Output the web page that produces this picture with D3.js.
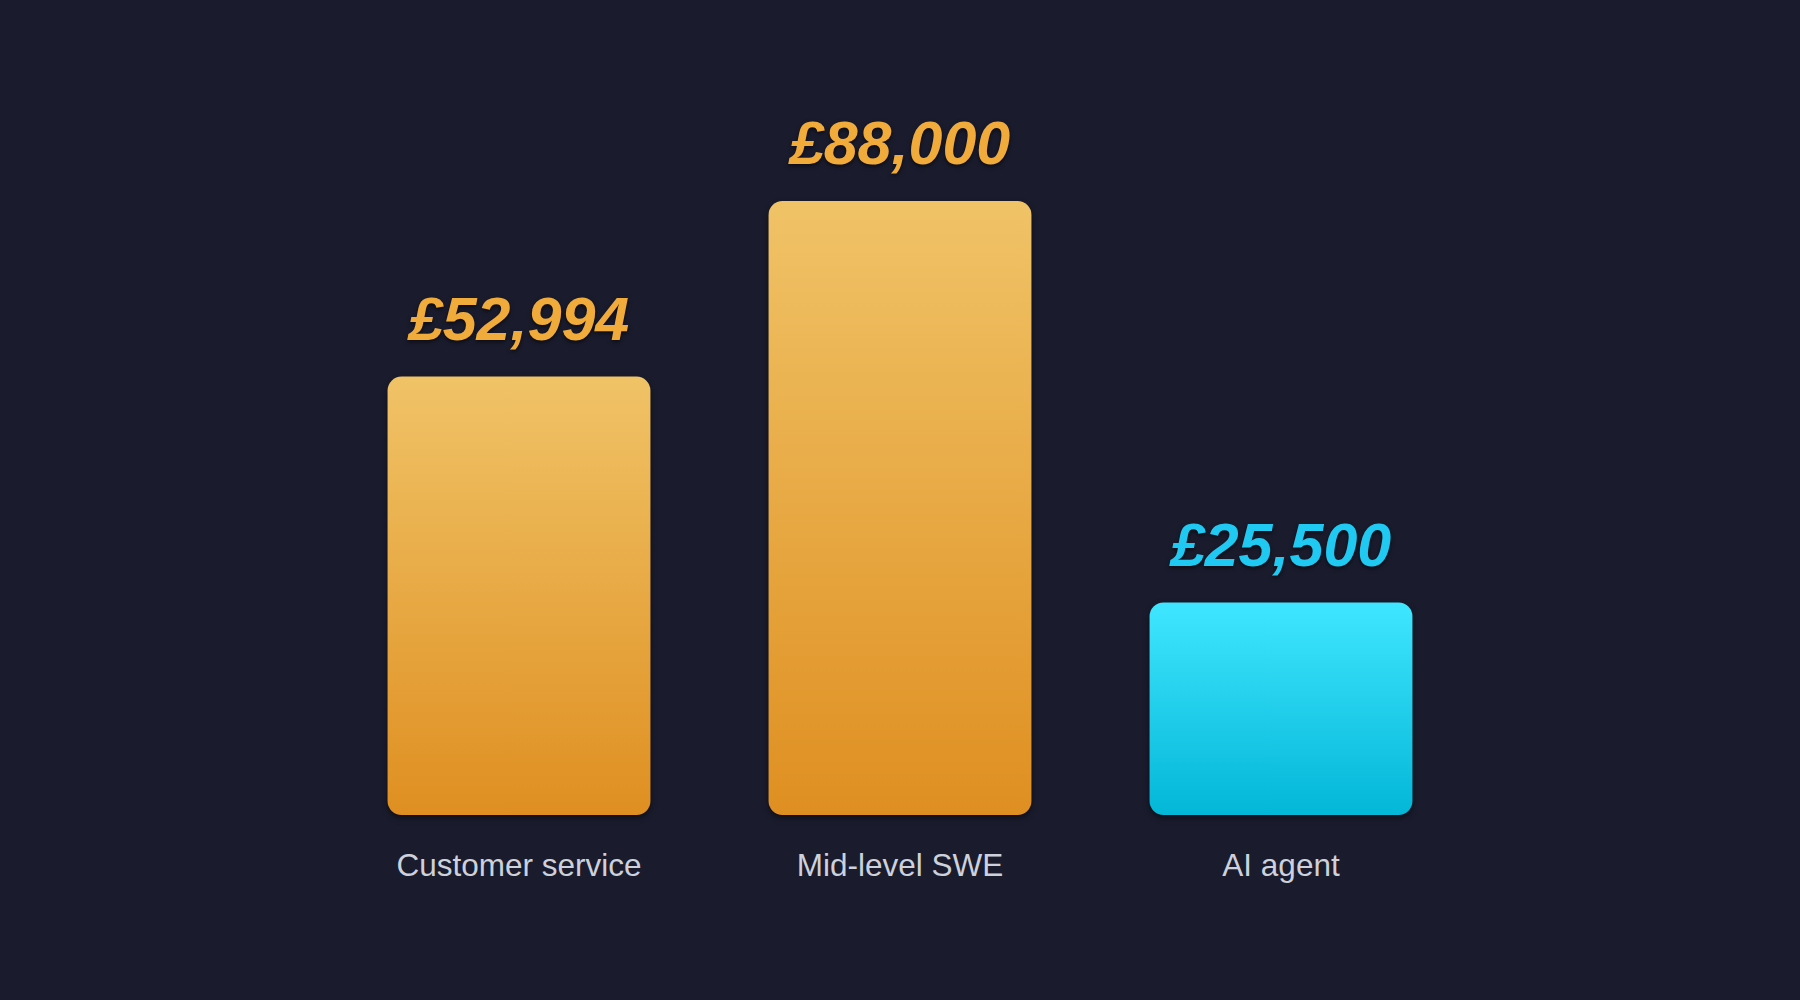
<!DOCTYPE html>
<html>
<head>
<meta charset="utf-8">
<script src="https://cdn.jsdelivr.net/npm/d3@7"></script>
<style>
  html, body { margin: 0; padding: 0; background: #1a1b2d; }
  svg { display: block; }
</style>
</head>
<body>
<svg id="chart" width="1800" height="1000"></svg>
<script>
// ---- data ----
const categories = ["Customer service", "Mid-level SWE", "AI agent"];
const values = [52994, 88000, 25500];
const valueLabels = ["£52,994", "£88,000", "£25,500"];
const groups = ["human", "human", "ai"];

const W = 1800, H = 1000;
const baseY = 815, topY = 201;

const svg = d3.select("#chart");
svg.append("rect").attr("width", W).attr("height", H).attr("fill", "#1a1b2d");

const defs = svg.append("defs");
const gradStops = {
  human: ["#f0c367", "#df8f21"],
  ai: ["#40e6ff", "#03b7d7"]
};
Object.entries(gradStops).forEach(([k, c]) => {
  const g = defs.append("linearGradient").attr("id", "grad-" + k)
    .attr("x1", 0).attr("y1", 0).attr("x2", 0).attr("y2", 1);
  g.append("stop").attr("offset", "0%").attr("stop-color", c[0]);
  g.append("stop").attr("offset", "100%").attr("stop-color", c[1]);
});
const textColor = { human: "#f0ab3b", ai: "#1fc9f2" };

const x = d3.scaleBand()
  .domain(categories)
  .range([328.5, 1471.5])
  .paddingInner(0.31)
  .paddingOuter(0.155);

// bar heights in the reference are visually compressed; a power scale reproduces them
const y = d3.scalePow()
  .exponent(0.185)
  .domain([11550, 88000])
  .range([baseY, topY]);

const data = categories.map((c, i) => ({ c, v: values[i], label: valueLabels[i], g: groups[i] }));

svg.append("g").selectAll("rect")
  .data(data)
  .join("rect")
  .attr("x", d => x(d.c))
  .attr("y", d => y(d.v))
  .attr("width", x.bandwidth())
  .attr("height", d => baseY - y(d.v))
  .attr("rx", 14)
  .attr("ry", 14)
  .attr("fill", d => "url(#grad-" + d.g + ")")
  .style("filter", "drop-shadow(0px 3px 3px rgba(0,0,0,0.45))");

svg.append("g").selectAll("text")
  .data(data)
  .join("text")
  .attr("x", d => x(d.c) + x.bandwidth() / 2)
  .attr("y", d => y(d.v) - 37)
  .attr("text-anchor", "middle")
  .attr("font-family", "'Liberation Sans', Arial, sans-serif")
  .attr("font-weight", "bold")
  .attr("font-style", "italic")
  .attr("font-size", 61)
  .attr("fill", d => textColor[d.g])
  .style("filter", "drop-shadow(0px 2px 2px rgba(0,0,0,0.55))")
  .text(d => d.label);

const xAxis = d3.axisBottom(x).tickSize(0).tickPadding(0);
const axisG = svg.append("g")
  .attr("transform", `translate(0,${baseY})`)
  .call(xAxis);
axisG.select(".domain").remove();
axisG.selectAll("text")
  .attr("y", 61)
  .attr("dy", 0)
  .attr("font-family", "'Liberation Sans', Arial, sans-serif")
  .attr("font-size", 31.5)
  .attr("fill", "#cdd1db");
</script>
</body>
</html>
